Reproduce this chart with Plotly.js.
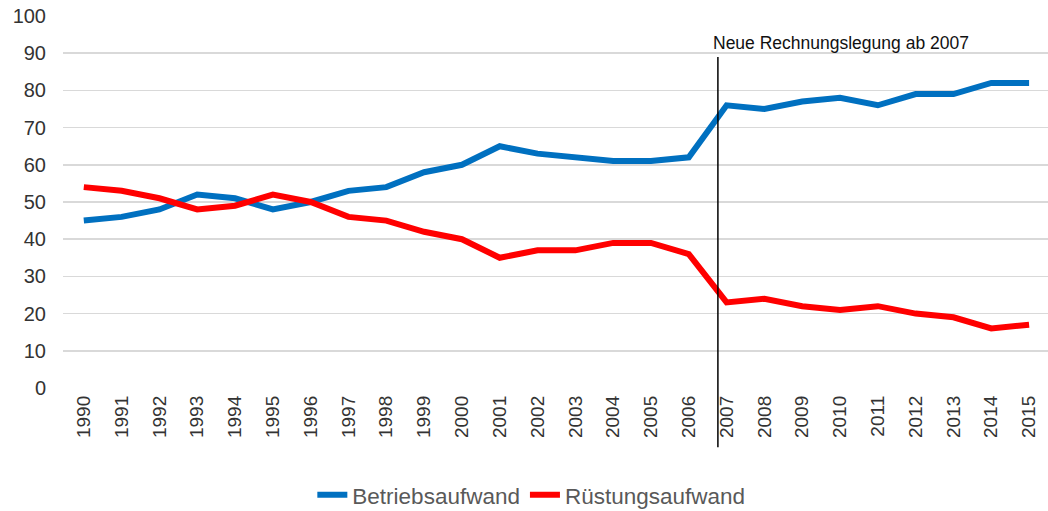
<!DOCTYPE html>
<html>
<head>
<meta charset="utf-8">
<script src="https://cdn.plot.ly/plotly-3.0.1.min.js"></script>
<style>html,body{margin:0;padding:0;background:#fff;}#chart{width:1048px;height:511px;}</style>
</head>
<body>
<div id="chart"></div>
<script>
const years = [1990,1991,1992,1993,1994,1995,1996,1997,1998,1999,2000,2001,2002,2003,2004,2005,2006,2007,2008,2009,2010,2011,2012,2013,2014,2015];
const betriebsaufwand = [45,46,48,52,51,48,50,53,54,58,60,65,63,62,61,61,62,76,75,77,78,76,79,79,82,82];
const ruestungsaufwand = [54,53,51,48,49,52,50,46,45,42,40,35,37,37,39,39,36,23,24,22,21,22,20,19,16,17];
const seriesNames = ['Betriebsaufwand','Rüstungsaufwand'];
const markerYear = 2006.77;
const markerLabel = 'Neue Rechnungslegung ab 2007';

const traces = [
  {x: years, y: betriebsaufwand, name: seriesNames[0], type: 'scatter', mode: 'lines',
   line: {color: '#0070C0', width: 6}},
  {x: years, y: ruestungsaufwand, name: seriesNames[1], type: 'scatter', mode: 'lines',
   line: {color: '#FF0000', width: 6}}
];

const layout = {
  width: 1048, height: 511,
  margin: {l: 63, r: 0, t: 16, b: 123},
  paper_bgcolor: '#fff', plot_bgcolor: '#fff',
  font: {family: 'Liberation Sans, Arial, sans-serif', color: '#404040'},
  xaxis: {
    range: [1989.45, 2015.5], tickmode: 'array', tickvals: years, ticktext: years.map(String),
    tickangle: -90, showgrid: false, zeroline: false, showline: false, ticks: '',
    ticklabelstandoff: 3,
    tickfont: {size: 19, color: '#333'}
  },
  yaxis: {
    range: [0, 100], dtick: 10, showgrid: true, gridcolor: '#d9d9d9', gridwidth: 1.5,
    zeroline: false, showline: false, ticks: '', ticklen: 0, ticklabelstandoff: 16,
    tickfont: {size: 20, color: '#333'}
  },
  shapes: [{
    type: 'line', xref: 'x', yref: 'paper', x0: markerYear, x1: markerYear, y0: -0.159, y1: 0.89,
    line: {color: '#000', width: 1.5}
  }],
  annotations: [{
    xref: 'x', yref: 'paper', x: markerYear - 0.17, y: 0.927, xanchor: 'left', yanchor: 'middle',
    text: markerLabel, showarrow: false, font: {size: 17.5, color: '#111'}
  }],
  showlegend: true,
  legend: {
    orientation: 'h', xref: 'container', yref: 'container', x: 0.507, y: 0.031,
    xanchor: 'center', yanchor: 'middle', font: {size: 22.5, color: '#595959'},
    itemwidth: 30, tracegroupgap: 0
  }
};

Plotly.newPlot('chart', traces, layout, {displayModeBar: false, staticPlot: true});
</script>
</body>
</html>
